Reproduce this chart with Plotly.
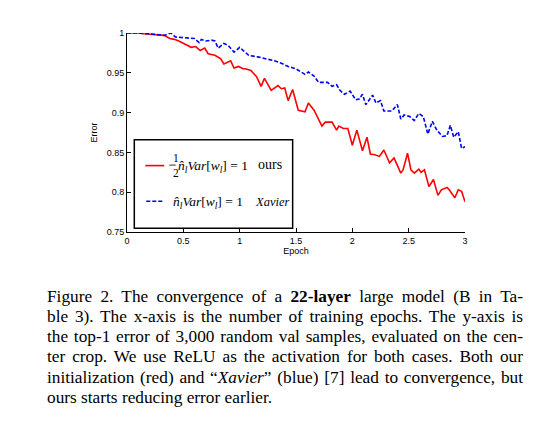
import plotly.graph_objects as go

# Error curves (epoch, top-1 error)
ours_epoch = [0.00, 0.10, 0.15, 0.24, 0.33, 0.38, 0.42, 0.46, 0.51, 0.57, 0.61, 0.65, 0.69, 0.72,
              0.78, 0.83, 0.86, 0.92, 0.95, 0.99, 1.03, 1.05, 1.10, 1.15, 1.19, 1.22, 1.28, 1.34,
              1.37, 1.40, 1.43, 1.47, 1.52, 1.58, 1.61, 1.66, 1.73, 1.76, 1.82, 1.86, 1.88, 1.92,
              1.96, 2.00, 2.04, 2.09, 2.13, 2.16, 2.20, 2.24, 2.28, 2.33, 2.37, 2.43, 2.45, 2.49,
              2.52, 2.55, 2.59, 2.61, 2.64, 2.68, 2.72, 2.76, 2.79, 2.84, 2.86, 2.91, 2.94, 2.97, 3.00]
ours_err = [1.000, 1.000, 0.999, 0.998, 0.997, 0.993, 0.992, 0.990, 0.986, 0.982, 0.983, 0.978, 0.981, 0.974,
            0.972, 0.968, 0.961, 0.965, 0.956, 0.958, 0.955, 0.955, 0.953, 0.945, 0.933, 0.943, 0.928, 0.934,
            0.930, 0.931, 0.915, 0.929, 0.903, 0.901, 0.912, 0.903, 0.883, 0.888, 0.888, 0.878, 0.883, 0.880,
            0.880, 0.859, 0.878, 0.852, 0.869, 0.848, 0.847, 0.845, 0.853, 0.837, 0.843, 0.824, 0.828, 0.849,
            0.828, 0.824, 0.829, 0.825, 0.828, 0.807, 0.816, 0.796, 0.803, 0.806, 0.803, 0.793, 0.803, 0.801, 0.788]

xavier_epoch = [0.00, 0.10, 0.20, 0.28, 0.33, 0.39, 0.43, 0.51, 0.60, 0.64, 0.66, 0.70, 0.75, 0.78,
                0.81, 0.86, 0.90, 0.95, 1.00, 1.04, 1.08, 1.16, 1.25, 1.31, 1.37, 1.43, 1.50, 1.58,
                1.61, 1.66, 1.70, 1.78, 1.82, 1.86, 1.89, 1.93, 1.98, 2.03, 2.06, 2.09, 2.12, 2.18,
                2.21, 2.25, 2.28, 2.35, 2.40, 2.43, 2.46, 2.51, 2.55, 2.59, 2.63, 2.67, 2.71, 2.75,
                2.80, 2.84, 2.87, 2.90, 2.94, 2.97, 3.00]
xavier_err = [1.000, 1.000, 0.999, 0.998, 0.997, 1.000, 0.995, 0.994, 0.993, 0.988, 0.992, 0.990, 0.991, 0.990,
              0.981, 0.987, 0.984, 0.976, 0.982, 0.977, 0.972, 0.970, 0.967, 0.965, 0.962, 0.958, 0.955, 0.948,
              0.951, 0.946, 0.938, 0.938, 0.933, 0.935, 0.928, 0.923, 0.927, 0.916, 0.917, 0.923, 0.910, 0.922,
              0.912, 0.915, 0.902, 0.902, 0.910, 0.892, 0.897, 0.895, 0.890, 0.899, 0.895, 0.873, 0.889, 0.878,
              0.870, 0.871, 0.884, 0.869, 0.876, 0.855, 0.857]

x_ticks = [0, 0.5, 1, 1.5, 2, 2.5, 3]
y_ticks = [0.75, 0.8, 0.85, 0.9, 0.95, 1]

caption_lines = [
    "Figure 2. The convergence of a <b>22-layer</b> large model (B in Ta-",
    "ble 3). The x-axis is the number of training epochs. The y-axis is",
    "the top-1 error of 3,000 random val samples, evaluated on the cen-",
    "ter crop. We use ReLU as the activation for both cases. Both our",
    "initialization (red) and \u201c<i>Xavier</i>\u201d (blue) [7] lead to convergence, but",
    "ours starts reducing error earlier.",
]

W, H = 540, 423
L, R, T, B = 126.7, 465.0, 32.7, 231.7


def px(x):
    return (x - L) / (R - L)


def py(y):
    return (B - y) / (B - T)


fig = go.Figure()
fig.add_trace(go.Scatter(x=ours_epoch, y=ours_err, mode="lines",
                         line=dict(color="#ff0000", width=1.6)))
fig.add_trace(go.Scatter(x=xavier_epoch, y=xavier_err, mode="lines",
                         line=dict(color="#0000ff", width=1.6, dash="4px,2px")))

axis_font = dict(family="Liberation Sans", size=9, color="black")
fig.update_xaxes(range=[0, 3], tickvals=x_ticks, ticktext=[f"{v:g}" for v in x_ticks],
                 ticks="inside", ticklen=4, tickcolor="black", showline=True, linecolor="black",
                 linewidth=1, showgrid=False, zeroline=False, tickfont=axis_font,
                 title=dict(text="Epoch", font=axis_font, standoff=2))
fig.update_yaxes(range=[0.75, 1], tickvals=y_ticks, ticktext=[f"{v:g}" for v in y_ticks],
                 ticks="inside", ticklen=4, tickcolor="black", showline=True, linecolor="black",
                 linewidth=1, showgrid=False, zeroline=False, tickfont=axis_font,
                 title=dict(text="Error", font=axis_font, standoff=7))

shapes = [
    # legend box
    dict(type="rect", xref="paper", yref="paper", x0=px(134), x1=px(292.5), y0=py(228), y1=py(139.5),
         line=dict(color="black", width=1.5), fillcolor="white", layer="above"),
    dict(type="line", xref="paper", yref="paper", x0=px(145), x1=px(164), y0=py(165.3), y1=py(165.3),
         line=dict(color="#ff0000", width=1.6)),
    dict(type="line", xref="paper", yref="paper", x0=px(146), x1=px(163), y0=py(201), y1=py(201),
         line=dict(color="#0000ff", width=1.6, dash="4px,2px")),
    # fraction bar
    dict(type="line", xref="paper", yref="paper", x0=px(169), x1=px(175.5), y0=py(164.8), y1=py(164.8),
         line=dict(color="black", width=0.8)),
]

serif = "Liberation Serif"
black = "black"
formula = "<i>n\u0302</i><sub><i>l</i></sub><i>Var</i>[<i>w</i><sub><i>l</i></sub>] = 1"
annotations = [
    dict(text="1", x=px(172.2), y=py(158), borderpad=0, font=dict(family=serif, size=11.5, color=black)),
    dict(text="2", x=px(172.2), y=py(172.5), borderpad=0, font=dict(family=serif, size=11.5, color=black)),
    dict(text=formula, x=px(176.5), y=py(166), xanchor="left", borderpad=0,
         font=dict(family=serif, size=13.5, color=black)),
    dict(text="ours", x=px(256), y=py(164), xanchor="left", font=dict(family=serif, size=14, color=black)),
    dict(text=formula, x=px(172), y=py(202.5), xanchor="left", borderpad=0,
         font=dict(family=serif, size=13.5, color=black)),
    dict(text="<i>Xavier</i>", x=px(252.5), y=py(201.5), xanchor="left",
         font=dict(family=serif, size=12.5, color=black)),
]
for a in annotations:
    a.update(xref="paper", yref="paper", showarrow=False, yanchor="middle")

n_legend = len(annotations)
line_y = [296.5, 316.5, 336.5, 356.5, 377, 397]
for text, yy in zip(caption_lines, line_y):
    annotations.append(dict(text=text, xref="paper", yref="paper", x=px(45), y=py(yy),
                            xanchor="left", yanchor="middle", align="left", showarrow=False,
                            font=dict(family=serif, size=17.3, color=black)))

fig.update_layout(width=W, height=H, showlegend=False, plot_bgcolor="white", paper_bgcolor="white",
                  margin=dict(l=L, r=W - R, t=T, b=H - B, autoexpand=False),
                  shapes=shapes, annotations=annotations)

# justify the caption lines (all but the last) to the column width
justify = """
document.body.style.margin = '0';
var gd = document.getElementById('{plot_id}');
gd.querySelectorAll('g.annotation').forEach(function (g) {
    var i = +g.getAttribute('data-index');
    if (i >= %d && i < %d) {
        var t = g.querySelector('text.annotation-text');
        var w = t.getComputedTextLength();
        var n = (t.textContent.match(/ /g) || []).length;
        if (n > 0) { t.style.wordSpacing = ((476 - w) / n) + 'px'; }
    }
});
""" % (n_legend, n_legend + len(caption_lines) - 1)

fig.write_html("out.html", post_script=justify, config={"displayModeBar": False})
